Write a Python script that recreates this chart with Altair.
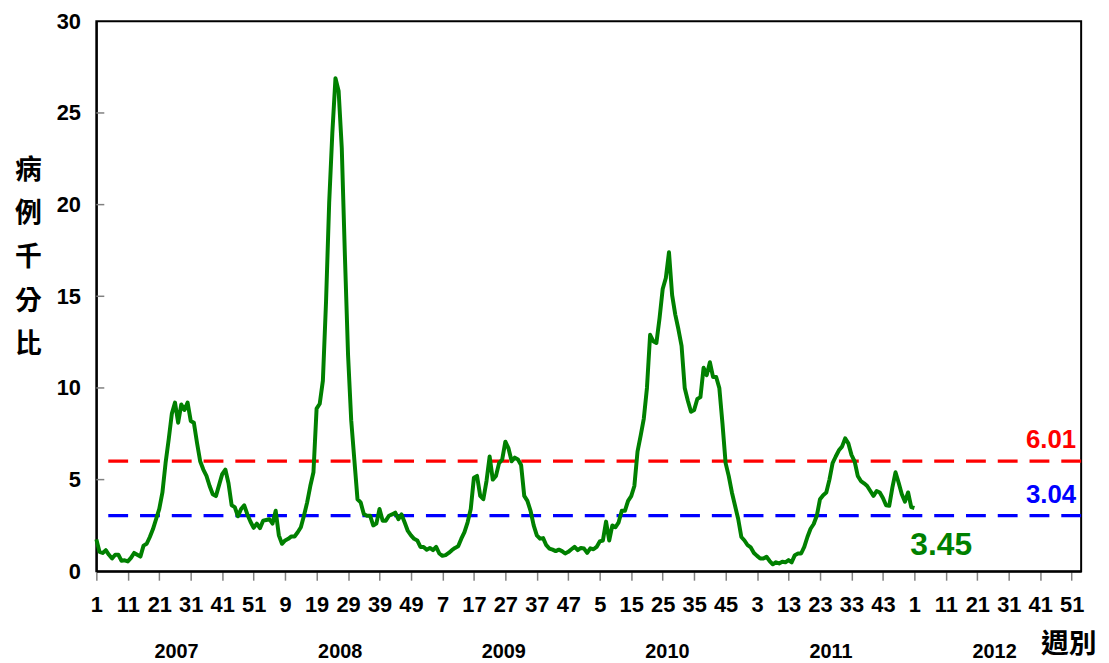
import altair as alt
import pandas as pd

# ---------------- data ----------------
years = [2007, 2008, 2009, 2010, 2011, 2012]
weeks_per_year = 52

y2007 = [1.74, 1.06, 1.0, 1.15, 0.9, 0.7, 0.9, 0.9, 0.57, 0.6, 0.54, 0.73, 1.0, 0.9, 0.8, 1.4,
         1.5, 1.87, 2.3, 2.85, 3.4, 4.3, 5.9, 7.2, 8.6, 9.2, 8.1, 9.1, 8.8, 9.2, 8.2, 8.1,
         7.0, 6.0, 5.55, 5.2, 4.65, 4.2, 4.1, 4.7, 5.3, 5.55, 4.8, 3.6, 3.5, 3.0, 3.4, 3.6,
         3.1, 2.7, 2.37, 2.6]
y2008 = [2.35, 2.76, 2.8, 2.84, 2.6, 3.3, 1.96, 1.5, 1.68, 1.77, 1.9, 1.9, 2.13, 2.4, 3.04, 3.76,
         4.65, 5.4, 8.87, 9.14, 10.4, 14.7, 20.1, 23.9, 26.9, 26.2, 23.1, 17.2, 11.8, 8.24, 6.08, 3.93,
         3.76, 3.12, 3.03, 3.03, 2.5, 2.6, 3.4, 2.76, 2.76, 3.03, 3.1, 3.2, 2.84, 3.1, 2.66, 2.2,
         1.96, 1.77, 1.68, 1.33]
y2009 = [1.33, 1.18, 1.27, 1.15, 1.33, 0.97, 0.84, 0.88, 1.0, 1.15, 1.27, 1.36, 1.78, 2.14, 2.67, 3.4,
         5.1, 5.2, 4.11, 3.93, 4.92, 6.26, 5.0, 5.2, 5.9, 6.1, 7.07, 6.7, 6.0, 6.2, 6.1, 5.8,
         4.11, 3.84, 3.3, 2.5, 1.96, 1.78, 1.81, 1.42, 1.24, 1.18, 1.1, 1.18, 1.1, 0.97, 1.06, 1.2,
         1.33, 1.15, 1.27, 1.24]
y2010 = [1.0, 1.25, 1.2, 1.33, 1.63, 1.68, 2.71, 1.68, 2.5, 2.4, 2.67, 3.3, 3.3, 3.84, 4.1, 4.65,
         6.53, 7.4, 8.33, 10.0, 12.9, 12.55, 12.45, 13.8, 15.4, 16.0, 17.4, 15.06, 14.0, 13.2, 12.3, 10.0,
         9.3, 8.7, 8.8, 9.4, 9.5, 11.1, 10.7, 11.4, 10.6, 10.6, 10.0, 8.06, 5.9, 5.19, 4.3, 3.57,
         2.85, 1.87, 1.68, 1.42]
y2011 = [1.3, 1.0, 0.84, 0.7, 0.7, 0.79, 0.56, 0.38, 0.49, 0.43, 0.52, 0.49, 0.61, 0.49, 0.88, 0.97,
         0.97, 1.33, 1.87, 2.32, 2.58, 3.04, 3.93, 4.15, 4.3, 5.0, 5.9, 6.26, 6.6, 6.8, 7.25, 6.98,
         6.35, 6.0, 5.2, 4.92, 4.8, 4.65, 4.38, 4.11, 4.38, 4.3, 4.0, 3.6, 3.57, 4.56, 5.4, 4.83,
         4.2, 3.8, 4.3, 3.5]
y2012 = [3.45]

thresholds = [6.01, 3.04]
threshold_labels = ["6.01", "3.04"]
threshold_colors = ["#FF0000", "#0000FF"]

y_ticks = [0, 5, 10, 15, 20, 25, 30]
x_tick_idx = list(range(0, 311, 10))
y_title = ["病", "例", "千", "分", "比"]
x_title = "週別"

# ---------------- frames ----------------
series = y2007 + y2008 + y2009 + y2010 + y2011 + y2012
df = pd.DataFrame({"idx": list(range(len(series))), "rate": series})
df_last = df.tail(1).assign(label=lambda d: d["rate"].map(lambda v: f"{v:.2f}"))
df_thr = pd.DataFrame({"v": thresholds, "label": threshold_labels, "color": threshold_colors})
df_years = pd.DataFrame({"year": [str(y) for y in years],
                         "center": [k * weeks_per_year + 25.5 for k in range(len(years))]})
df_yt = pd.DataFrame({"v": y_ticks[1:-1]})

W, H = 992, 554
NUM_FONT = "Liberation Sans"
CJK_FONT = "Noto Sans CJK TC"

xscale = alt.Scale(domain=[0, 313], nice=False, zero=False)
yscale = alt.Scale(domain=[0, 30], nice=False)

x_axis = alt.Axis(values=x_tick_idx, tickCount=60, labelExpr="(datum.value % 52) + 1", grid=False,
                  tickSize=9, tickColor="#808080", tickWidth=1.5,
                  domainColor="#000000", domainWidth=2,
                  labelFont=NUM_FONT, labelFontWeight="bold", labelFontSize=22,
                  labelColor="#000000", labelPadding=15, labelOverlap=False, labelFlush=False,
                  labelBound=False,
                  title=x_title, titleFont=CJK_FONT, titleFontSize=28, titleFontWeight="bold",
                  titleColor="#000000", titleX=979, titleY=74, titleAlign="center",
                  titleBaseline="middle", titleAnchor="start")
y_axis = alt.Axis(values=y_ticks, tickCount=10, grid=False, tickSize=0,
                  domainColor="#000000", domainWidth=2,
                  labelFont=NUM_FONT, labelFontWeight="bold", labelFontSize=22,
                  labelColor="#000000", labelPadding=16, labelBound=False, labelFlush=False,
                  title=y_title, titleFont=CJK_FONT, titleFontSize=27, titleFontWeight="bold",
                  titleColor="#000000", titleAngle=0, titleX=-69, titleY=137,
                  titleAlign="center", titleBaseline="top", titleLineHeight=44, titleAnchor="start")

base = alt.Chart(df)

line = base.mark_line(color="#008000", strokeWidth=4, strokeJoin="round").encode(
    x=alt.X("idx:Q", scale=xscale, axis=x_axis),
    y=alt.Y("rate:Q", scale=yscale, axis=y_axis),
)

ytick_rules = alt.Chart(df_yt).mark_rule(color="#808080", strokeWidth=1.5).encode(
    y=alt.Y("v:Q", scale=yscale), x=alt.value(0), x2=alt.value(8)
)

thr_rules = alt.Chart(df_thr).mark_rule(strokeDash=[20, 12], strokeWidth=3.3).encode(
    y=alt.Y("v:Q", scale=yscale),
    color=alt.Color("color:N", scale=None),
)

thr_text = alt.Chart(df_thr).mark_text(font=NUM_FONT, fontWeight="bold", fontSize=26,
                                       align="right", baseline="alphabetic", dy=-13).encode(
    y=alt.Y("v:Q", scale=yscale),
    x=alt.value(W - 5),
    text="label:N",
    color=alt.Color("color:N", scale=None),
)

last_text = alt.Chart(df_last).mark_text(font=NUM_FONT, fontWeight="bold", fontSize=32,
                                         color="#008000", align="center", baseline="alphabetic",
                                         dx=27, dy=47).encode(
    x=alt.X("idx:Q", scale=xscale),
    y=alt.Y("rate:Q", scale=yscale),
    text="label:N",
)

year_text = alt.Chart(df_years).mark_text(font=NUM_FONT, fontWeight="bold", fontSize=20,
                                          color="#000000", align="center",
                                          baseline="alphabetic").encode(
    x=alt.X("center:Q", scale=xscale),
    y=alt.value(H + 87),
    text="year:N",
)

chart = alt.layer(thr_rules, line, ytick_rules, thr_text, last_text, year_text).properties(
    width=W, height=H,
    autosize=alt.AutoSizeParams(type="none"),
    padding={"left": 89, "top": 11, "right": 20, "bottom": 90},
    background="#FFFFFF",
).configure_view(stroke="#000000", strokeWidth=2)

chart.save("out.html", embed_options={"renderer": "svg", "actions": False})
